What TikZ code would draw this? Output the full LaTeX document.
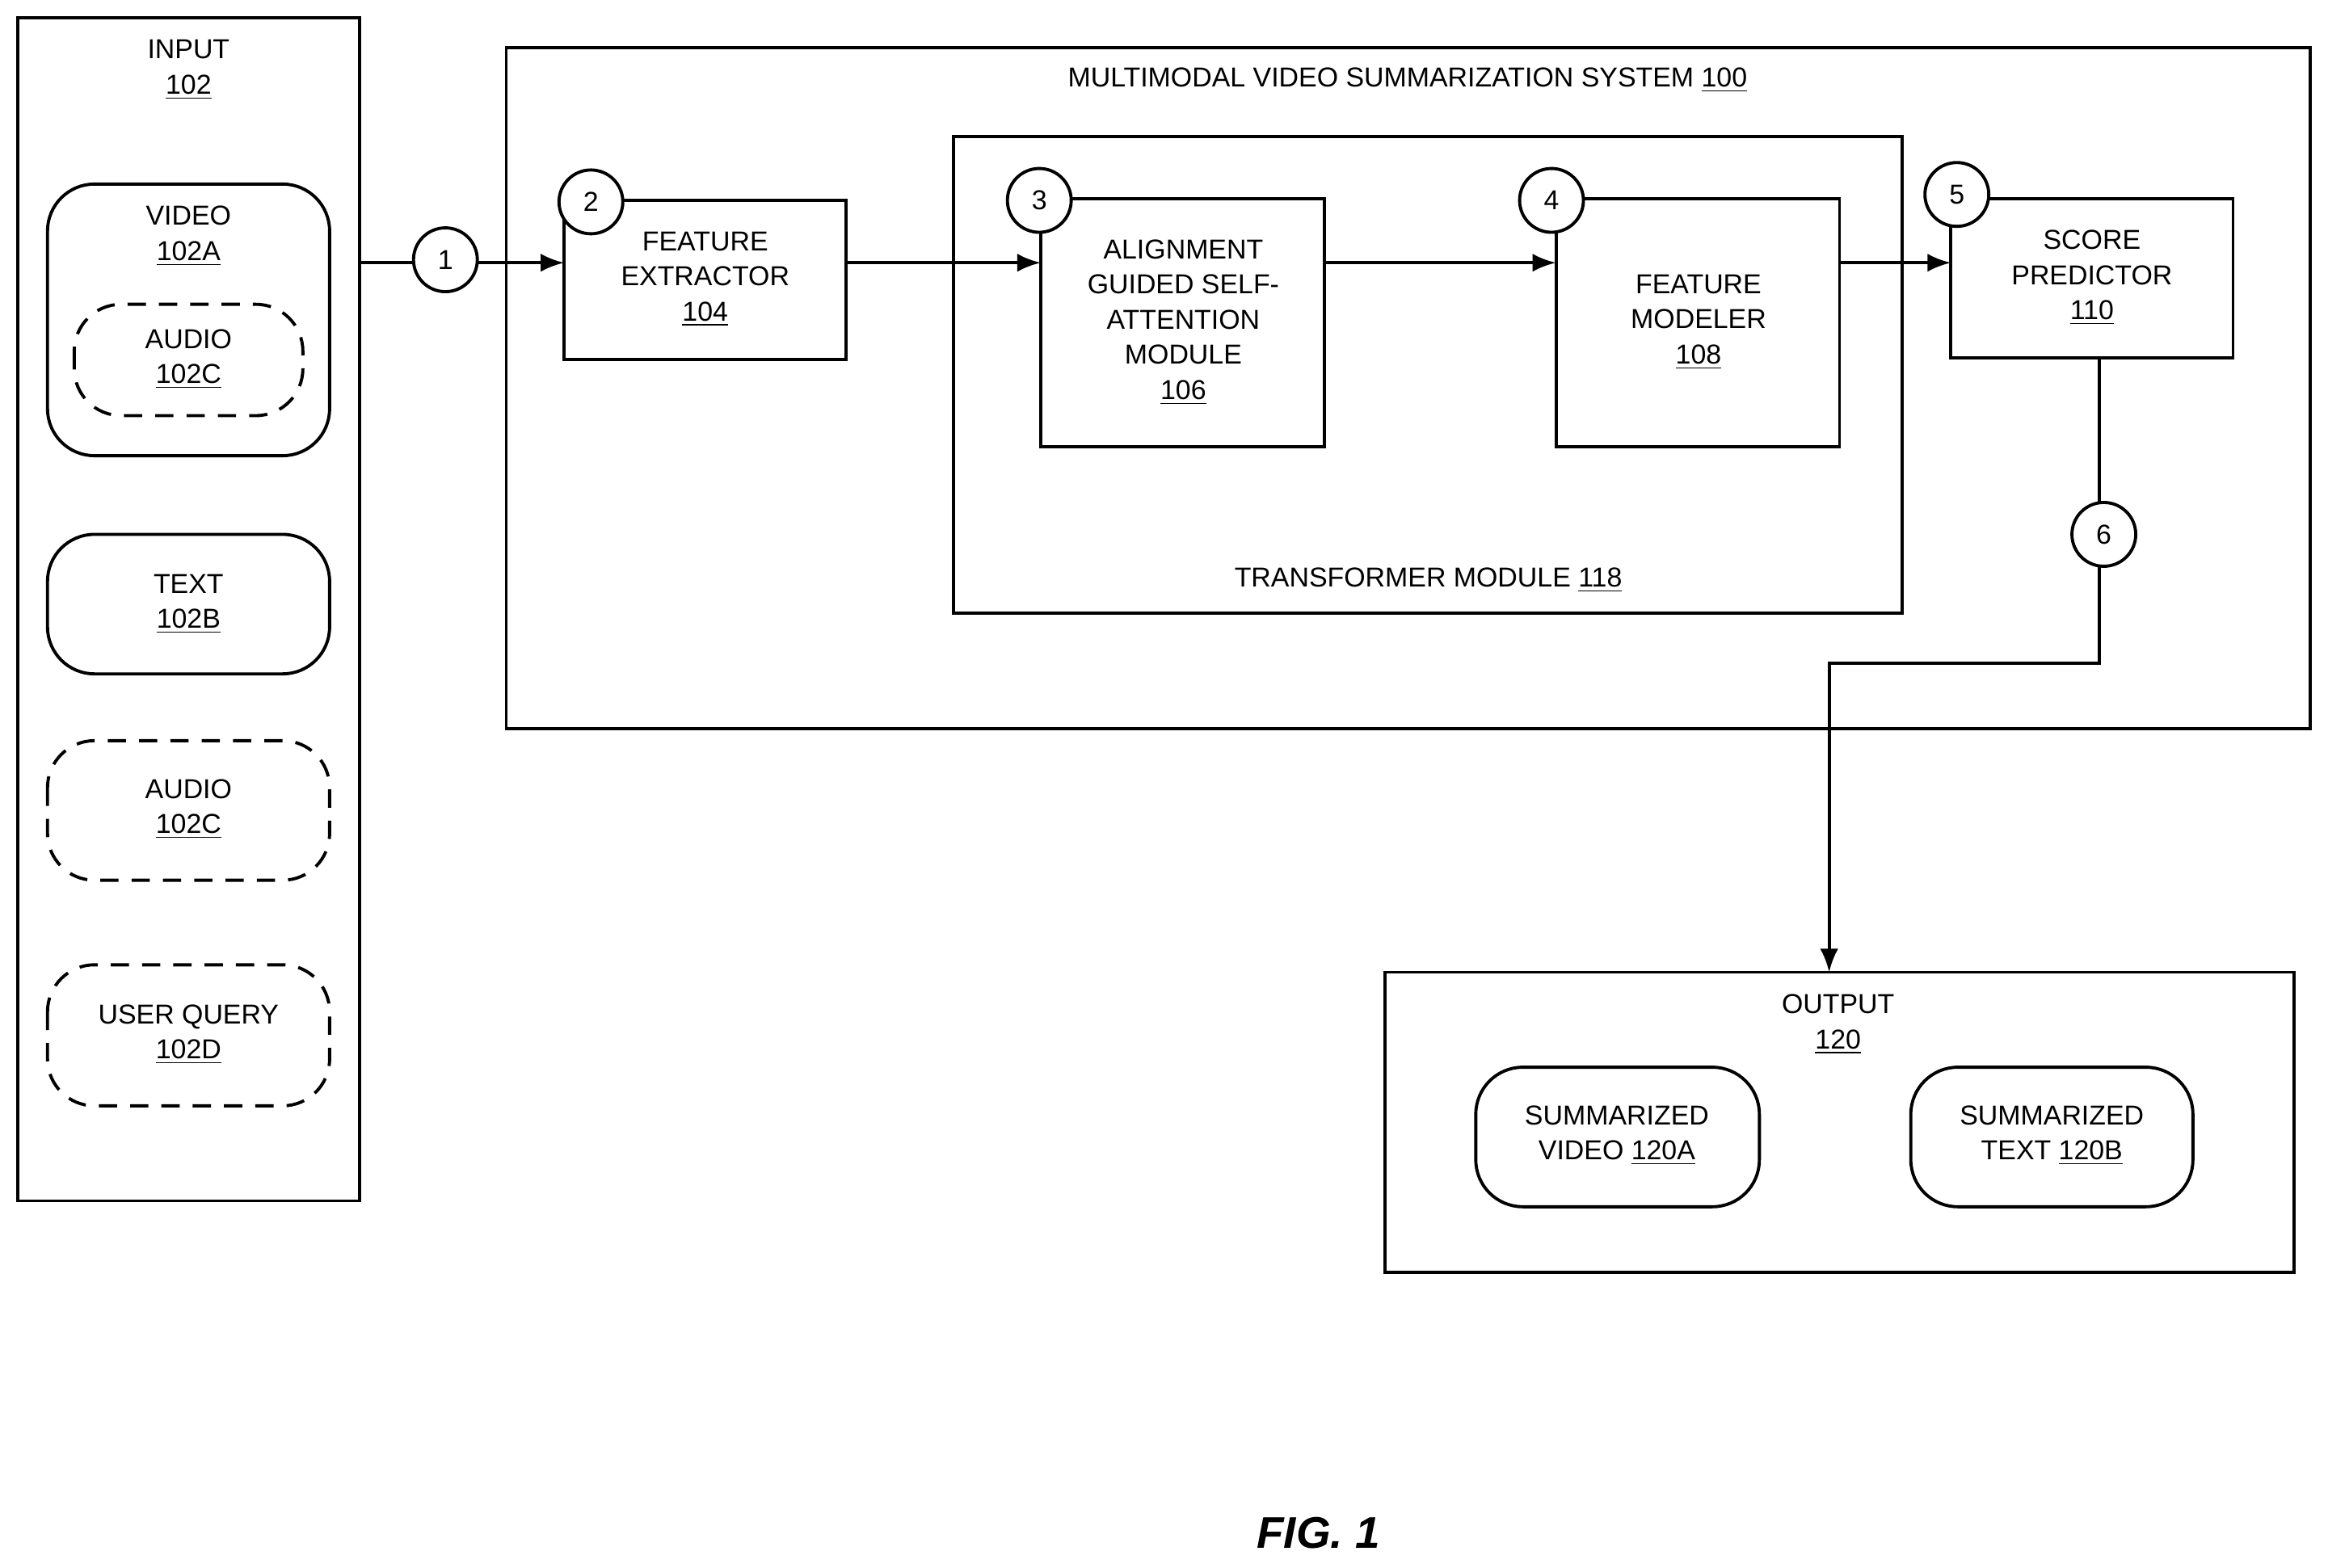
\documentclass[tikz,border=0pt]{standalone}
\usepackage{fontspec}
\setmainfont{Liberation Sans}
\usetikzlibrary{positioning,arrows.meta}
\tikzset{
  rbox/.style={draw, line width=1.2pt, rounded corners=18pt},
  dbox/.style={rbox, dash pattern=on 7pt off 5pt},
  stepnum/.style={draw, circle, line width=1.2pt, fill=white, minimum size=0.86cm, inner sep=0pt, font=\fontsize{10.5}{12}\selectfont},
  lbl/.style={align=center, font=\fontsize{10.5}{13.5}\selectfont},
  flow/.style={line width=1.2pt, -{Latex[length=9pt,width=7pt]}},
}
\begin{document}
\begin{tikzpicture}[x=0.02cm, y=-0.02cm]
    \useasboundingbox (0,0) rectangle (1568,1056);

    % input side
    \draw[line width=1.2pt] (12,12) rectangle (242,809);
    \node[lbl] (input) at (127,47) {INPUT\\\underline{102}};
    \draw[rbox] (32,124) rectangle (222,307);
    \node[lbl] (video) at (127,159) {VIDEO\\\underline{102A}};
    \draw[dbox] (50,205) rectangle (204,280);
    \node[lbl] (audioa) at (127,242) {AUDIO\\\underline{102C}};
    \draw[rbox] (32,360) rectangle (222,454);
    \node[lbl] (text) at (127,407) {TEXT\\\underline{102B}};
    \draw[dbox] (32,499) rectangle (222,593);
    \node[lbl] (audiob) at (127,545) {AUDIO\\\underline{102C}};
    \draw[dbox] (32,650) rectangle (222,745);
    \node[lbl] (query) at (127,697) {USER QUERY\\\underline{102D}};
    \coordinate (inR) at (242,177);

    % system
    \draw[line width=1.2pt] (341,32) rectangle (1556,491);
    \node[lbl] (sys) at (948,54) {MULTIMODAL VIDEO SUMMARIZATION SYSTEM \underline{100}};
    \draw[line width=1.2pt] (642,92) rectangle (1281,413);
    \node[lbl] (trans) at (962,391) {TRANSFORMER MODULE \underline{118}};

    \draw[line width=1.2pt] (380,135) rectangle (570,242);
    \node[lbl] (fe) at (475,188) {FEATURE\\EXTRACTOR\\\underline{104}};
    \coordinate (feL) at (380,177); \coordinate (feR) at (570,177);
    \draw[line width=1.2pt] (701,134) rectangle (892,301);
    \node[lbl] (ag) at (797,217) {ALIGNMENT\\GUIDED SELF-\\ATTENTION\\MODULE\\\underline{106}};
    \coordinate (agL) at (701,177); \coordinate (agR) at (892,177);
    \draw[line width=1.2pt] (1048,134) rectangle (1239,301);
    \node[lbl] (fm) at (1144,217) {FEATURE\\MODELER\\\underline{108}};
    \coordinate (fmL) at (1048,177); \coordinate (fmR) at (1239,177);
    \draw[line width=1.2pt] (1314,134) rectangle (1504,241);
    \node[lbl] (sp) at (1409,187) {SCORE\\PREDICTOR\\\underline{110}};
    \coordinate (spL) at (1314,177); \coordinate (spB) at (1414,241);

    % output
    \draw[line width=1.2pt] (933,655) rectangle (1545,857);
    \node[lbl] (out) at (1238,690) {OUTPUT\\\underline{120}};
    \coordinate (outT) at (1232,655);
    \draw[rbox] (994,719) rectangle (1185,813);
    \node[lbl] (sv) at (1089,765) {SUMMARIZED\\VIDEO \underline{120A}};
    \draw[rbox] (1287,719) rectangle (1477,813);
    \node[lbl] (st) at (1382,765) {SUMMARIZED\\TEXT \underline{120B}};

    % connectors
    \draw[flow] (inR) -- (feL);
    \draw[flow] (feR) -- (agL);
    \draw[flow] (agR) -- (fmL);
    \draw[flow] (fmR) -- (spL);
    \draw[flow] (spB) -- (1414,447) -- (1232,447) -- (outT);

    % steps
    \node[stepnum] (s1) at (300,175) {1};
    \node[stepnum] (s2) at (398,136) {2};
    \node[stepnum] (s3) at (700,135) {3};
    \node[stepnum] (s4) at (1045,135) {4};
    \node[stepnum] (s5) at (1318,131) {5};
    \node[stepnum] (s6) at (1417,360) {6};

    \node[font=\fontsize{17}{20}\selectfont\bfseries\itshape] (fig) at (888,1033) {FIG. 1};
\end{tikzpicture}
\end{document}
